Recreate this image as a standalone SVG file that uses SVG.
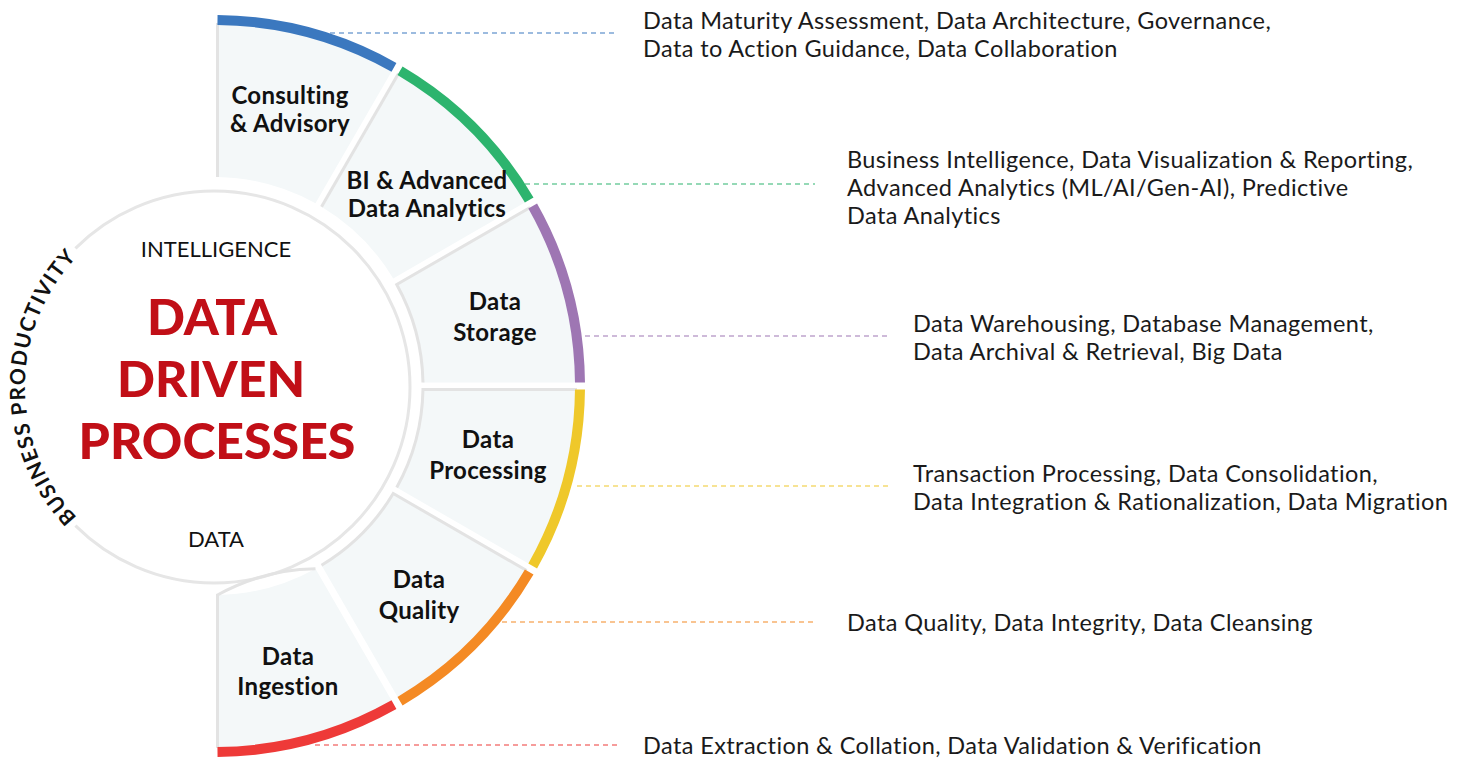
<svg xmlns="http://www.w3.org/2000/svg" width="1468" height="760" viewBox="0 0 1468 760">
<defs>
<style>
.seg{fill:#f4f8f9;stroke:none}
.edge{fill:none;stroke:#e3e3e3;stroke-width:3}
.band{fill:none;stroke-width:10;stroke-linecap:butt}
.lead{fill:none;stroke-width:1.2;stroke-dasharray:5 4}
.lbl{font-family:Lato,"Liberation Sans",sans-serif;font-weight:700;font-size:24px;letter-spacing:0.3px;fill:#111;text-anchor:middle}
.desc{font-family:Lato,"Liberation Sans",sans-serif;font-size:23.5px;letter-spacing:0.4px;fill:#1a1a1a}
.core{font-family:Lato,"Liberation Sans",sans-serif;font-size:22px;fill:#111;text-anchor:middle}
.big{font-family:Lato,"Liberation Sans",sans-serif;font-weight:900;font-size:50px;fill:#c10f17;text-anchor:middle}
</style>
<path id="bpPath" d="M80.36,520.64 A189,189 0 0,1 80.36,253.36"/>
</defs>
<rect width="1468" height="760" fill="#fff"/>

<g id="center">
<circle cx="214" cy="387" r="196" fill="#fff"/>
<path d="M75.41,248.41 A196,196 0 1,1 75.41,525.59" fill="none" stroke="#e6e6e6" stroke-width="3"/>
<text class="core" x="216" y="257">INTELLIGENCE</text>
<text class="big" x="212" y="335">DATA</text>
<text class="big" x="211" y="397">DRIVEN</text>
<text class="big" x="217" y="459">PROCESSES</text>
<text class="core" x="216" y="547">DATA</text>
<text font-family="Lato,'Liberation Sans',sans-serif" font-weight="700" font-size="21" fill="#111" letter-spacing="1.4"><textPath href="#bpPath" startOffset="50%" text-anchor="middle">BUSINESS PRODUCTIVITY</textPath></text>
</g>

<g id="consulting">
<path class="seg" d="M217.5,23.02 A363,363 0 0,1 392.46,69.90 L315.46,203.28 A209,209 0 0,0 217.5,177.03 Z"/>
<path class="edge" d="M217.5,23 L217.5,177"/>
<path class="band" stroke="#3b78bf" d="M217.5,20.02 A366,366 0 0,1 393.96,67.30"/>
<text class="lbl" x="290" y="104">Consulting</text>
<text class="lbl" x="290" y="132">&amp; Advisory</text>
</g>

<g id="bi">
<path class="seg" d="M398.52,73.40 A363,363 0 0,1 526.60,201.48 L393.22,278.48 A209,209 0 0,0 321.52,206.78 Z"/>
<path class="edge" d="M398.52,73.40 L321.52,206.78"/>
<path class="band" stroke="#2db46e" d="M400.02,70.80 A366,366 0 0,1 529.20,199.98"/>
<text class="lbl" x="427" y="189">BI &amp; Advanced</text>
<text class="lbl" x="427" y="217">Data Analytics</text>
</g>

<g id="storage">
<path class="seg" d="M530.10,207.54 A363,363 0 0,1 576.98,382.5 L422.97,382.5 A209,209 0 0,0 396.72,284.54 Z"/>
<path class="edge" d="M530.10,207.54 L396.72,284.54 A209,209 0 0,1 422.97,382.5"/>
<path class="band" stroke="#9e76b3" d="M532.70,206.04 A366,366 0 0,1 579.98,382.5"/>
<text class="lbl" x="495" y="310">Data</text>
<text class="lbl" x="495" y="341">Storage</text>
</g>

<g id="processing">
<path class="seg" d="M576.98,389.5 A363,363 0 0,1 530.10,564.46 L396.72,487.46 A209,209 0 0,0 422.97,389.5 Z"/>
<path class="edge" d="M576.98,389.5 L422.97,389.5 A209,209 0 0,1 396.72,487.46"/>
<path class="band" stroke="#efc82a" d="M579.98,389.5 A366,366 0 0,1 532.70,565.96"/>
<text class="lbl" x="488" y="448">Data</text>
<text class="lbl" x="488" y="479">Processing</text>
</g>

<g id="quality">
<path class="seg" d="M526.60,570.52 A363,363 0 0,1 398.52,698.60 L321.52,565.22 A209,209 0 0,0 393.22,493.52 Z"/>
<path class="edge" d="M526.60,570.52 L393.22,493.52 A209,209 0 0,1 321.52,565.22"/>
<path class="band" stroke="#f48a24" d="M529.20,572.02 A366,366 0 0,1 400.02,701.20"/>
<text class="lbl" x="419" y="588">Data</text>
<text class="lbl" x="419" y="619">Quality</text>
</g>

<g id="ingestion">
<path class="seg" d="M392.46,702.10 A363,363 0 0,1 217.5,748.98 L217.5,594.97 A209,209 0 0,0 315.46,568.72 Z"/>
<path class="edge" d="M315.46,568.72 A209,209 0 0,0 217.5,594.97 L217.5,748"/>
<path class="band" stroke="#ee3a38" d="M393.96,704.70 A366,366 0 0,1 217.5,751.98"/>
<text class="lbl" x="288" y="665">Data</text>
<text class="lbl" x="288" y="695">Ingestion</text>
</g>

<g id="connectors">
<path class="lead" stroke="#3b78bf" d="M330,33 H618"/>
<path class="lead" stroke="#2db46e" d="M525,184 H815"/>
<path class="lead" stroke="#9e76b3" d="M585,336 H888"/>
<path class="lead" stroke="#efc82a" d="M577,486 H888"/>
<path class="lead" stroke="#f48a24" d="M502,622 H815"/>
<path class="lead" stroke="#ee3a38" d="M315,745 H618"/>
</g>

<g id="descriptions">
<text class="desc" x="643" y="29">Data Maturity Assessment, Data Architecture, Governance,</text>
<text class="desc" x="643" y="57">Data to Action Guidance, Data Collaboration</text>
<text class="desc" x="847" y="168">Business Intelligence, Data Visualization &amp; Reporting,</text>
<text class="desc" x="847" y="196">Advanced Analytics (ML/AI/Gen-AI), Predictive</text>
<text class="desc" x="847" y="224">Data Analytics</text>
<text class="desc" x="913" y="332">Data Warehousing, Database Management,</text>
<text class="desc" x="913" y="360">Data Archival &amp; Retrieval, Big Data</text>
<text class="desc" x="913" y="482">Transaction Processing, Data Consolidation,</text>
<text class="desc" x="913" y="510">Data Integration &amp; Rationalization, Data Migration</text>
<text class="desc" x="847" y="631">Data Quality, Data Integrity, Data Cleansing</text>
<text class="desc" x="643" y="754">Data Extraction &amp; Collation, Data Validation &amp; Verification</text>
</g>
</svg>
